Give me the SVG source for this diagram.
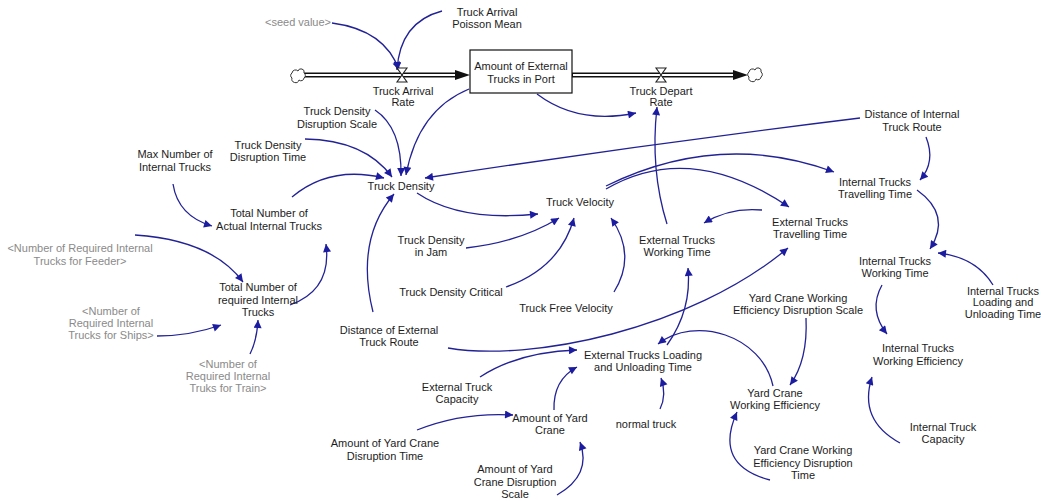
<svg xmlns="http://www.w3.org/2000/svg" width="1041" height="501" viewBox="0 0 1041 501">
  <style>
    text { font-family: "Liberation Sans", Arial, sans-serif; font-size: 11px; fill: #1c1c1c; text-anchor: middle; }
    text.shadow { fill: #8a8a8a; }
    .link { fill: none; stroke: #222296; stroke-width: 1.3; marker-end: url(#ah); }
    .pipe-out { stroke: #111; stroke-width: 5; fill: none; }
    .pipe-in { stroke: #fff; stroke-width: 1.8; fill: none; }
    .cloud { fill: #fff; stroke: #333; stroke-width: 1; }
    .valve { fill: #fff; stroke: #222; stroke-width: 1.1; }
  </style>
  <defs>
    <marker id="ah" viewBox="0 0 10 10" refX="10" refY="5" markerWidth="12" markerHeight="8" markerUnits="userSpaceOnUse" orient="auto">
      <path d="M0,0 L10,5 L0,10 z" fill="#1c1ca0"/>
    </marker>
    <path id="cloudShape" d="M-6,3 a3,3 0 0 1 0,-5 a3.5,3.5 0 0 1 6,-2 a3,3 0 0 1 6,2 a3,3 0 0 1 0,5 a3,3 0 0 1 -5,2 a3,3 0 0 1 -7,-2 z"/>
  </defs>
  <rect width="1041" height="501" fill="#fff"/>

  <!-- flow pipes -->
  <g id="flows">
    <line class="pipe-out" x1="304" y1="75" x2="456" y2="75"/>
    <line class="pipe-in" x1="304" y1="75" x2="458" y2="75"/>
    <path d="M455,70 L470,75 L455,80 z" fill="#111"/>
    <line class="pipe-out" x1="572" y1="75" x2="734" y2="75"/>
    <line class="pipe-in" x1="573" y1="75" x2="736" y2="75"/>
    <path d="M733,70 L748,75 L733,80 z" fill="#111"/>
    <use href="#cloudShape" class="cloud" transform="translate(298,75)"/>
    <use href="#cloudShape" class="cloud" transform="translate(755,74)"/>
  </g>

  <!-- causal links -->
  <g id="connectors">
    <path class="link" d="M332,23 Q385,30 399,70"/>
    <path class="link" d="M442,11 Q400,22 397,70"/>
    <path class="link" d="M537,94 Q578,125 636,113"/>
    <path class="link" d="M667,224 Q650,170 657,107"/>
    <path class="link" d="M469,89 Q418,110 406,175"/>
    <path class="link" d="M375,110 Q402,128 401,176"/>
    <path class="link" d="M305,139 Q365,140 392,177"/>
    <path class="link" d="M292,197 Q330,165 384,178"/>
    <path class="link" d="M860,118 Q640,145 425,178"/>
    <path class="link" d="M373,312 Q355,240 394,194"/>
    <path class="link" d="M417,193 Q460,222 538,214"/>
    <path class="link" d="M466,248 Q520,242 559,218"/>
    <path class="link" d="M506,287 Q560,268 574,218"/>
    <path class="link" d="M614,292 Q637,255 611,218"/>
    <path class="link" d="M606,186 Q720,130 834,172"/>
    <path class="link" d="M606,189 Q690,140 789,207"/>
    <path class="link" d="M926,137 Q936,162 920,180"/>
    <path class="link" d="M917,190 Q952,215 930,249"/>
    <path class="link" d="M993,285 Q976,257 938,253"/>
    <path class="link" d="M882,285 Q868,310 887,334"/>
    <path class="link" d="M900,443 Q858,420 872,377"/>
    <path class="link" d="M762,210 Q730,207 704,223"/>
    <path class="link" d="M667,345 Q692,310 688,268"/>
    <path class="link" d="M448,348 C530,362 690,330 788,248"/>
    <path class="link" d="M480,377 Q518,352 577,350"/>
    <path class="link" d="M554,410 Q553,380 577,367"/>
    <path class="link" d="M660,409 Q667,395 661,378"/>
    <path class="link" d="M773,386 C762,335 695,315 658,344"/>
    <path class="link" d="M806,318 Q808,360 790,385"/>
    <path class="link" d="M770,480 Q713,465 737,412"/>
    <path class="link" d="M417,430 Q462,412 513,415"/>
    <path class="link" d="M557,495 Q592,475 580,442"/>
    <path class="link" d="M173,184 Q178,216 212,226"/>
    <path class="link" d="M135,235 Q212,240 243,282"/>
    <path class="link" d="M157,336 Q190,336 221,325"/>
    <path class="link" d="M250,354 Q257,340 258,320"/>
    <path class="link" d="M290,305 Q332,290 326,244"/>
  </g>

  <!-- stock -->
  <g id="amount-external-trucks">
    <rect x="470" y="50" width="102" height="43" fill="#fff" stroke="#111" stroke-width="1.2"/>
    <text x="521" y="70">Amount of External</text>
    <text x="521" y="83">Trucks in Port</text>
  </g>

  <!-- rates -->
  <g id="truck-arrival-rate">
    <path class="valve" d="M397,68 L407,68 L397,82 L407,82 Z"/>
    <text x="403" y="95">Truck Arrival</text>
    <text x="403" y="106">Rate</text>
  </g>
  <g id="truck-depart-rate">
    <path class="valve" d="M656,68 L666,68 L656,82 L666,82 Z"/>
    <text x="661" y="95">Truck Depart</text>
    <text x="661" y="106">Rate</text>
  </g>

  <!-- auxiliaries -->
  <g id="seed-value"><text class="shadow" x="298" y="26">&lt;seed value&gt;</text></g>
  <g id="truck-arrival-poisson-mean">
    <text x="487" y="16">Truck Arrival</text>
    <text x="487" y="28">Poisson Mean</text>
  </g>
  <g id="truck-density-disruption-scale">
    <text x="337" y="115">Truck Density</text>
    <text x="337" y="128">Disruption Scale</text>
  </g>
  <g id="truck-density-disruption-time">
    <text x="268" y="149">Truck Density</text>
    <text x="268" y="161">Disruption Time</text>
  </g>
  <g id="max-number-internal-trucks">
    <text x="175" y="158">Max Number of</text>
    <text x="175" y="171">Internal Trucks</text>
  </g>
  <g id="distance-internal-route">
    <text x="912" y="118">Distance of Internal</text>
    <text x="912" y="131">Truck Route</text>
  </g>
  <g id="truck-density"><text x="401" y="190">Truck Density</text></g>
  <g id="internal-trucks-travelling-time">
    <text x="875" y="186">Internal Trucks</text>
    <text x="875" y="198">Travelling Time</text>
  </g>
  <g id="truck-velocity"><text x="580" y="206">Truck Velocity</text></g>
  <g id="external-trucks-travelling-time">
    <text x="810" y="226">External Trucks</text>
    <text x="810" y="238">Travelling Time</text>
  </g>
  <g id="total-actual-internal-trucks">
    <text x="269" y="217">Total Number of</text>
    <text x="269" y="230">Actual Internal Trucks</text>
  </g>
  <g id="external-trucks-working-time">
    <text x="677" y="244">External Trucks</text>
    <text x="677" y="256">Working Time</text>
  </g>
  <g id="truck-density-in-jam">
    <text x="431" y="244">Truck Density</text>
    <text x="431" y="256">in Jam</text>
  </g>
  <g id="required-trucks-feeder">
    <text class="shadow" x="80" y="252">&lt;Number of Required Internal</text>
    <text class="shadow" x="80" y="265">Trucks for Feeder&gt;</text>
  </g>
  <g id="internal-trucks-working-time">
    <text x="895" y="265">Internal Trucks</text>
    <text x="895" y="277">Working Time</text>
  </g>
  <g id="internal-trucks-loading-time">
    <text x="1003" y="295">Internal Trucks</text>
    <text x="1003" y="306">Loading and</text>
    <text x="1003" y="318">Unloading Time</text>
  </g>
  <g id="total-required-internal-trucks">
    <text x="258" y="291">Total Number of</text>
    <text x="258" y="304">required Internal</text>
    <text x="258" y="316">Trucks</text>
  </g>
  <g id="truck-density-critical"><text x="451" y="296">Truck Density Critical</text></g>
  <g id="required-trucks-ships">
    <text class="shadow" x="111" y="315">&lt;Number of</text>
    <text class="shadow" x="111" y="327">Required Internal</text>
    <text class="shadow" x="111" y="339">Trucks for Ships&gt;</text>
  </g>
  <g id="truck-free-velocity"><text x="566" y="312">Truck Free Velocity</text></g>
  <g id="yard-crane-efficiency-disruption-scale">
    <text x="798" y="302">Yard Crane Working</text>
    <text x="798" y="314">Efficiency Disruption Scale</text>
  </g>
  <g id="distance-external-route">
    <text x="389" y="334">Distance of External</text>
    <text x="389" y="346">Truck Route</text>
  </g>
  <g id="required-trucks-train">
    <text class="shadow" x="228" y="368">&lt;Number of</text>
    <text class="shadow" x="228" y="380">Required Internal</text>
    <text class="shadow" x="228" y="392">Truks for Train&gt;</text>
  </g>
  <g id="external-trucks-loading-time">
    <text x="643" y="359">External Trucks Loading</text>
    <text x="643" y="371">and Unloading Time</text>
  </g>
  <g id="internal-trucks-working-efficiency">
    <text x="918" y="352">Internal Trucks</text>
    <text x="918" y="365">Working Efficiency</text>
  </g>
  <g id="external-truck-capacity">
    <text x="457" y="391">External Truck</text>
    <text x="457" y="403">Capacity</text>
  </g>
  <g id="yard-crane-working-efficiency">
    <text x="775" y="397">Yard Crane</text>
    <text x="775" y="409">Working Efficiency</text>
  </g>
  <g id="amount-yard-crane">
    <text x="550" y="422">Amount of Yard</text>
    <text x="550" y="434">Crane</text>
  </g>
  <g id="normal-truck"><text x="646" y="428">normal truck</text></g>
  <g id="internal-truck-capacity">
    <text x="943" y="431">Internal Truck</text>
    <text x="943" y="443">Capacity</text>
  </g>
  <g id="yard-crane-disruption-time">
    <text x="385" y="447">Amount of Yard Crane</text>
    <text x="385" y="460">Disruption Time</text>
  </g>
  <g id="yard-crane-efficiency-disruption-time">
    <text x="803" y="454">Yard Crane Working</text>
    <text x="803" y="467">Efficiency Disruption</text>
    <text x="803" y="479">Time</text>
  </g>
  <g id="yard-crane-disruption-scale">
    <text x="515" y="473">Amount of Yard</text>
    <text x="515" y="486">Crane Disruption</text>
    <text x="515" y="498">Scale</text>
  </g>
</svg>
